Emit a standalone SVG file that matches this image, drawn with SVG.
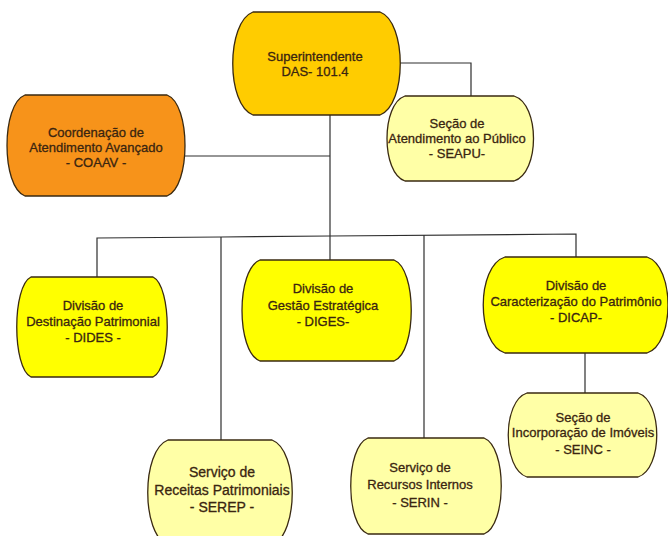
<svg xmlns="http://www.w3.org/2000/svg" width="668" height="536" viewBox="0 0 668 536">
<style>
.n{stroke:#3a2a12;stroke-width:1.3}
.gold{fill:#FFCC00}
.org{fill:#F7931A}
.yel{fill:#FFFF00}
.pale{fill:#FFFFA6}
text{font-family:"Liberation Sans",Arial,sans-serif;font-size:13px;fill:#3a2510;stroke:#3a2510;stroke-width:0.3;text-anchor:middle}
.big{font-size:14px}
.c{fill:none;stroke:#2e2e2e;stroke-width:1.2}
</style>
<rect width="668" height="536" fill="#ffffff"/>
<g id="connectors">
<polyline class="c" points="400,63 471,63 471,96"/>
<line class="c" x1="330" y1="115" x2="330" y2="260"/>
<line class="c" x1="185" y1="156" x2="330" y2="156"/>
<polyline class="c" points="97,277 97,238 221,237 330,236 576,234 576,257"/>
<line class="c" x1="221" y1="237" x2="221" y2="440"/>
<line class="c" x1="424" y1="235" x2="424" y2="438"/>
<line class="c" x1="585" y1="353" x2="585" y2="393"/>
</g>
<g id="superintendente">
<path class="n gold" d="M253,12 H380 C407,22 407,105 380,115 H253 C226,105 226,22 253,12 Z"/>
<text x="315" y="61">Superintendente</text>
<text x="315" y="76">DAS- 101.4</text>
</g>
<g id="coaav">
<path class="n org" d="M25,95 H167 C191,104 191,187 167,196 H25 C1,187 1,104 25,95 Z"/>
<text x="96" y="137">Coordenação de</text>
<text x="96" y="152">Atendimento Avançado</text>
<text x="96" y="167">- COAAV -</text>
</g>
<g id="seapu">
<path class="n pale" d="M405,96 H514 C540,104 540,173 514,181 H405 C381,173 381,104 405,96 Z"/>
<text x="457" y="128">Seção de</text>
<text x="457" y="143">Atendimento ao Público</text>
<text x="457" y="158">- SEAPU-</text>
</g>
<g id="dides">
<path class="n yel" d="M31,277 H153 C172,286 172,368 153,377 H31 C12,368 12,286 31,277 Z"/>
<text x="93" y="310">Divisão de</text>
<text x="93" y="326">Destinação Patrimonial</text>
<text x="93" y="342">- DIDES -</text>
</g>
<g id="diges">
<path class="n yel" d="M260,260 H394 C417,269 417,352 394,361 H260 C236,352 236,269 260,260 Z"/>
<text x="323" y="293">Divisão de</text>
<text x="323" y="310">Gestão Estratégica</text>
<text x="323" y="326">- DIGES-</text>
</g>
<g id="dicap">
<path class="n yel" d="M505,257 H647 C675,266 675,344 647,353 H505 C476,344 476,266 505,257 Z"/>
<text x="576" y="290">Divisão de</text>
<text x="576" y="306">Caracterização do Patrimônio</text>
<text x="576" y="322">- DICAP-</text>
</g>
<g id="serep">
<path class="n pale" d="M168,440 H272 C299,450 299,535 272,545 H168 C141,535 141,450 168,440 Z"/>
<text class="big" x="222" y="477">Serviço de</text>
<text class="big" x="222" y="495">Receitas Patrimoniais</text>
<text class="big" x="222" y="512">- SEREP -</text>
</g>
<g id="serin">
<path class="n pale" d="M368,438 H484 C507,447 507,525 484,534 H368 C345,525 345,447 368,438 Z"/>
<text x="420" y="472">Serviço de</text>
<text x="420" y="489">Recursos Internos</text>
<text x="420" y="507">- SERIN -</text>
</g>
<g id="seinc">
<path class="n pale" d="M527,393 H638 C663,401 663,469 638,477 H527 C502,469 502,401 527,393 Z"/>
<text x="583" y="422">Seção de</text>
<text x="583" y="437">Incorporação de Imóveis</text>
<text x="583" y="454">- SEINC -</text>
</g>
</svg>
